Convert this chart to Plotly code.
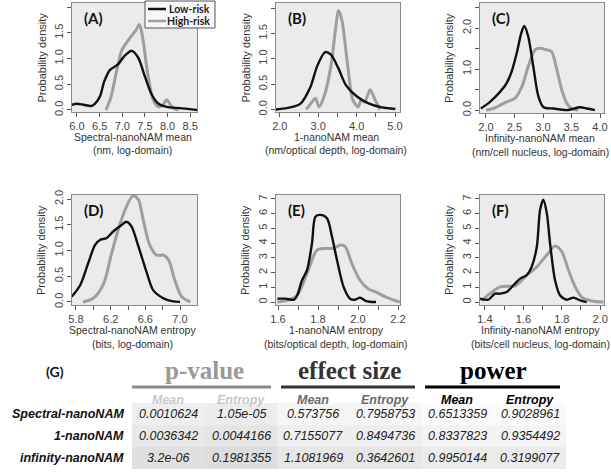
import plotly.graph_objects as go

W, H = 611, 475

# ---- density curves ----
a_low_x = [5.88, 6.0, 6.15, 6.33, 6.5, 6.6, 6.73, 6.9, 7.05, 7.21, 7.35, 7.5, 7.65, 7.8, 7.98, 8.2, 8.45, 8.65]
a_low_y = [0.10, 0.12, 0.10, 0.08, 0.25, 0.55, 0.78, 0.88, 1.05, 1.15, 1.02, 0.65, 0.30, 0.12, 0.06, 0.04, 0.02, 0.0]
a_high_x = [6.64, 6.75, 6.88, 6.99, 7.17, 7.3, 7.38, 7.46, 7.54, 7.62, 7.69, 7.8, 7.9, 7.98, 8.05, 8.12, 8.24]
a_high_y = [0.0, 0.25, 0.78, 1.16, 1.40, 1.55, 1.66, 1.35, 0.83, 0.42, 0.18, 0.06, 0.10, 0.20, 0.12, 0.03, 0.0]

b_low_x = [1.89, 2.27, 2.53, 2.80, 2.97, 3.18, 3.33, 3.52, 3.72, 4.00, 4.31, 4.66, 5.01]
b_low_y = [0.0, 0.04, 0.11, 0.45, 0.85, 1.13, 1.08, 0.82, 0.48, 0.26, 0.12, 0.04, 0.01]
b_high_x = [2.69, 2.84, 2.93, 3.02, 3.15, 3.33, 3.44, 3.53, 3.62, 3.77, 3.90, 4.04, 4.12, 4.21, 4.35, 4.48, 4.61]
b_high_y = [0.0, 0.15, 0.22, 0.05, 0.25, 0.85, 1.52, 1.95, 1.75, 0.85, 0.19, 0.05, 0.19, 0.14, 0.39, 0.19, 0.0]

c_low_x = [1.91, 2.07, 2.25, 2.36, 2.45, 2.54, 2.62, 2.67, 2.74, 2.83, 2.92, 3.01, 3.18, 3.42, 3.65, 3.77, 3.91]
c_low_y = [0.04, 0.20, 0.45, 0.65, 0.94, 1.39, 1.88, 2.05, 1.80, 1.06, 0.33, 0.07, 0.04, 0.0, 0.07, 0.04, 0.0]
c_high_x = [2.0, 2.13, 2.25, 2.36, 2.51, 2.63, 2.74, 2.86, 2.95, 3.06, 3.15, 3.23, 3.33, 3.42, 3.50, 3.62]
c_high_y = [0.0, 0.04, 0.12, 0.20, 0.29, 0.57, 1.06, 1.47, 1.51, 1.47, 1.43, 1.06, 0.49, 0.16, 0.04, 0.0]

d_low_x = [5.75, 5.85, 5.94, 6.02, 6.08, 6.15, 6.23, 6.33, 6.38, 6.44, 6.52, 6.62, 6.69, 6.81, 6.92, 7.0]
d_low_y = [0.10, 0.33, 0.75, 1.11, 1.21, 1.24, 1.37, 1.50, 1.56, 1.47, 1.08, 0.55, 0.23, 0.07, 0.01, 0.0]
d_high_x = [5.88, 6.0, 6.12, 6.21, 6.31, 6.40, 6.46, 6.52, 6.58, 6.65, 6.73, 6.81, 6.87, 6.94, 7.02, 7.12]
d_high_y = [0.0, 0.07, 0.36, 0.94, 1.53, 1.92, 2.07, 1.99, 1.56, 1.11, 0.91, 0.91, 0.81, 0.42, 0.10, 0.0]

e_low_x = [1.597, 1.638, 1.68, 1.696, 1.72, 1.745, 1.77, 1.787, 1.812, 1.845, 1.87, 1.895, 1.928, 1.96, 1.985, 2.01, 2.04, 2.09]
e_low_y = [0.23, 0.23, 0.16, 0.46, 1.48, 2.16, 3.99, 5.80, 5.92, 5.69, 4.44, 2.85, 1.03, 0.23, 0.16, 0.30, 0.07, 0.0]
e_high_x = [1.597, 1.646, 1.696, 1.745, 1.795, 1.836, 1.878, 1.911, 1.936, 1.969, 2.01, 2.05, 2.09, 2.14, 2.21]
e_high_y = [0.0, 0.11, 0.46, 1.94, 3.53, 3.64, 3.64, 3.87, 3.76, 2.62, 1.48, 0.91, 0.68, 0.34, 0.0]

f_low_x = [1.374, 1.417, 1.452, 1.478, 1.513, 1.548, 1.583, 1.617, 1.643, 1.670, 1.687, 1.704, 1.722, 1.739, 1.765, 1.791, 1.826, 1.861, 1.896, 1.930]
f_low_y = [0.23, 0.16, 0.57, 0.57, 0.68, 1.14, 1.59, 1.82, 2.39, 3.76, 6.26, 6.95, 6.04, 3.99, 1.48, 0.46, 0.16, 0.30, 0.11, 0.0]
f_high_x = [1.383, 1.426, 1.478, 1.522, 1.557, 1.617, 1.670, 1.722, 1.765, 1.80, 1.835, 1.870, 1.904, 1.957, 2.017]
f_high_y = [0.11, 0.57, 1.03, 1.07, 1.10, 1.82, 2.39, 3.19, 3.80, 3.42, 2.16, 1.03, 0.34, 0.07, 0.0]

# ---- table (G) ----
row_labels = ["Spectral-nanoNAM", "1-nanoNAM", "infinity-nanoNAM"]
group_labels = ["p-value", "effect size", "power"]
sub_labels = ["Mean", "Entropy", "Mean", "Entropy", "Mean", "Entropy"]
pvalue_mean = ["0.0010624", "0.0036342", "3.2e-06"]
pvalue_entropy = ["1.05e-05", "0.0044166", "0.1981355"]
effect_mean = ["0.573756", "0.7155077", "1.1081969"]
effect_entropy = ["0.7958753", "0.8494736", "0.3642601"]
power_mean = ["0.6513359", "0.8337823", "0.9950144"]
power_entropy = ["0.9028961", "0.9354492", "0.3199077"]


def px(x):
    return x / W


def py(y):
    return 1 - y / H


SERIF = "Liberation Serif, Times New Roman"
SANS = "Liberation Sans, Arial"


def note(text, x, y, size, color, family=SANS, xanchor="center", angle=0):
    return dict(text=text, x=px(x), y=py(y), xref="paper", yref="paper", xanchor=xanchor,
                yanchor="middle", showarrow=False, textangle=angle,
                font=dict(family=family, size=size, color=color))


# panel boxes in pixels: left, right, top, bottom
panels = [
    dict(tag="(A)", box=(72, 197, 3, 112), xr=[5.89, 8.65], yr=[-0.04, 2.08],
         xt=[6.0, 6.5, 7.0, 7.5, 8.0, 8.5], xl=["6.0", "6.5", "7.0", "7.5", "8.0", "8.5"],
         yt=[0, 0.5, 1, 1.5, 2], yl=["0.0", "0.5", "1.0", "1.5", "2.0"],
         title=["Spectral-nanoNAM mean", "(nm, log-domain)"],
         low=(a_low_x, a_low_y), high=(a_high_x, a_high_y)),
    dict(tag="(B)", box=(276, 400, 3, 112), xr=[1.9, 5.13], yr=[-0.05, 2.1],
         xt=[2, 2.5, 3, 3.5, 4, 4.5, 5], xl=["2.0", "", "3.0", "", "4.0", "", "5.0"],
         yt=[0, 0.5, 1, 1.5, 2], yl=["0.0", "0.5", "1.0", "1.5", "2.0"],
         title=["1-nanoNAM mean", "(nm/optical depth, log-domain)"],
         low=(b_low_x, b_low_y), high=(b_high_x, b_high_y)),
    dict(tag="(C)", box=(480, 604, 3, 113), xr=[1.895, 4.07], yr=[-0.07, 2.61],
         xt=[2, 2.5, 3, 3.5, 4], xl=["2.0", "2.5", "3.0", "3.5", "4.0"],
         yt=[0, 0.5, 1, 1.5, 2, 2.5], yl=["0.0", "", "1.0", "", "2.0", ""],
         title=["Infinity-nanoNAM mean", "(nm/cell nucleus, log-domain)"],
         low=(c_low_x, c_low_y), high=(c_high_x, c_high_y)),
    dict(tag="(D)", box=(72, 197, 195, 305), xr=[5.754, 7.196], yr=[-0.06, 2.08],
         xt=[5.8, 6.0, 6.2, 6.4, 6.6, 6.8, 7.0], xl=["5.8", "", "6.2", "", "6.6", "", "7.0"],
         yt=[0, 0.5, 1, 1.5, 2], yl=["0.0", "0.5", "1.0", "1.5", "2.0"],
         title=["Spectral-nanoNAM entropy", "(bits, log-domain)"],
         low=(d_low_x, d_low_y), high=(d_high_x, d_high_y)),
    dict(tag="(E)", box=(276, 400, 195, 305), xr=[1.59, 2.21], yr=[-0.2, 7.27],
         xt=[1.6, 1.7, 1.8, 1.9, 2.0, 2.1, 2.2], xl=["1.6", "", "1.8", "", "2.0", "", "2.2"],
         yt=list(range(8)), yl=[str(v) for v in range(8)],
         title=["1-nanoNAM entropy", "(bits/optical depth, log-domain)"],
         low=(e_low_x, e_low_y), high=(e_high_x, e_high_y)),
    dict(tag="(F)", box=(480, 604, 195, 305), xr=[1.374, 2.02], yr=[-0.2, 7.27],
         xt=[1.4, 1.5, 1.6, 1.7, 1.8, 1.9, 2.0], xl=["1.4", "", "1.6", "", "1.8", "", "2.0"],
         yt=list(range(8)), yl=[str(v) for v in range(8)],
         title=["Infinity-nanoNAM entropy", "(bits/cell nucleus, log-domain)"],
         low=(f_low_x, f_low_y), high=(f_high_x, f_high_y)),
]

BLACK = "#111111"
GREY = "#9e9e9e"
TICKFONT = dict(family=SANS, size=11, color="#444")

fig = go.Figure()
annotations = []
shapes = []
layout = {}

for i, p in enumerate(panels):
    n = "" if i == 0 else str(i + 1)
    l, r, t, b = p["box"]
    for (xs, ys), col, w in [(p["high"], GREY, 3), (p["low"], BLACK, 2.4)]:
        fig.add_trace(go.Scatter(x=xs, y=ys, mode="lines", xaxis="x" + n, yaxis="y" + n,
                                 line=dict(color=col, width=w, shape="spline", smoothing=0.8),
                                 showlegend=False, hoverinfo="skip"))
    layout["xaxis" + n] = dict(domain=[px(l), px(r)], range=p["xr"], anchor="y" + n,
                               tickvals=p["xt"], ticktext=p["xl"], ticks="outside", ticklen=4,
                               tickcolor="#555", showline=True, mirror=True, linecolor="#8a8a8a",
                               linewidth=1, showgrid=False, zeroline=False, tickfont=TICKFONT)
    layout["yaxis" + n] = dict(domain=[py(b), py(t)], range=p["yr"], anchor="x" + n,
                               tickvals=p["yt"], ticktext=p["yl"], ticks="outside", ticklen=4,
                               tickcolor="#555", showline=True, mirror=True, linecolor="#8a8a8a",
                               linewidth=1, showgrid=False, zeroline=False, tickangle=-90,
                               tickfont=TICKFONT)
    annotations.append(note("<b>%s</b>" % p["tag"], l + 10, t + 15, 15, "#111",
                            family="Lato, Open Sans", xanchor="left"))
    annotations.append(note("Probability density", l - 31, (t + b) / 2, 11, "#333", angle=-90))
    cx = (l + r) / 2 - 2
    for k, line in enumerate(p["title"]):
        annotations.append(note(line, cx, b + 25 + 13.5 * k, 10.5, "#333"))

# legend box
shapes.append(dict(type="rect", xref="paper", yref="paper", x0=px(145), x1=px(215), y0=py(28), y1=py(1),
                   line=dict(color="#555", width=1), fillcolor="#f7f7f7"))
for k, (lab, col) in enumerate([("Low-risk", BLACK), ("High-risk", GREY)]):
    yy = 9 + 12 * k
    shapes.append(dict(type="line", xref="paper", yref="paper", x0=px(148), x1=px(166), y0=py(yy), y1=py(yy),
                       line=dict(color=col, width=2.5)))
    annotations.append(note("<b>%s</b>" % lab, 212, yy, 10.5, "#222", family="Lato, Open Sans", xanchor="right"))

# ---- table (G) ----
annotations.append(note("<b>(G)</b>", 55, 371, 14, "#111", family="Lato, Open Sans"))
col_x = [168, 241, 313, 385, 457, 530]
col_edges = [132, 205, 277, 349, 421, 493, 566]
row_y = [414, 436, 458]
row_edges = [403, 425, 447, 469]
group_colors = ["#999999", "#333333", "#000000"]
line_colors = ["#8a8a8a", "#333333", "#000000"]
sub_colors = ["#c8c8c8", "#6a6a6a", "#000000"]
cell_shades = [["#efefef", "#ececec", "#f5f5f5", "#f5f5f5", "#fafafa", "#fafafa"],
               ["#e8e8e8", "#e5e5e5", "#eeeeee", "#eeeeee", "#f3f3f3", "#f3f3f3"],
               ["#e0e0e0", "#dddddd", "#e6e6e6", "#e6e6e6", "#ebebeb", "#ebebeb"]]
columns = [pvalue_mean, pvalue_entropy, effect_mean, effect_entropy, power_mean, power_entropy]

for g, lab in enumerate(group_labels):
    gx = (col_x[2 * g] + col_x[2 * g + 1]) / 2
    annotations.append(note("<b>%s</b>" % lab, gx, 370, 25, group_colors[g], family=SERIF))
    shapes.append(dict(type="line", xref="paper", yref="paper", x0=px(col_edges[2 * g] + (g > 0) * 4),
                       x1=px(col_edges[2 * g + 2] - 6), y0=py(387), y1=py(387),
                       line=dict(color=line_colors[g], width=3)))

for j, lab in enumerate(sub_labels):
    annotations.append(note("<b><i>%s</i></b>" % lab, col_x[j], 400, 12.5, sub_colors[j // 2]))

for r, lab in enumerate(row_labels):
    annotations.append(note("<b><i>%s</i></b>" % lab, 126, row_y[r], 12.5, "#111", xanchor="right"))
    for j, col in enumerate(columns):
        shapes.append(dict(type="rect", xref="paper", yref="paper", layer="below",
                           x0=px(col_edges[j]), x1=px(col_edges[j + 1]),
                           y0=py(row_edges[r + 1]), y1=py(row_edges[r]),
                           line=dict(width=0), fillcolor=cell_shades[r][j]))
        annotations.append(note("<i>%s</i>" % col[r], col_x[j], row_y[r], 12.5, "#222"))

fig.update_layout(layout)
fig.update_layout(width=W, height=H, margin=dict(l=0, r=0, t=0, b=0),
                  paper_bgcolor="white", plot_bgcolor="#ebebeb",
                  annotations=annotations, shapes=shapes, template=None)
fig.write_html("out.html", config={"displayModeBar": False},
               post_script="document.body.style.margin='0';")
